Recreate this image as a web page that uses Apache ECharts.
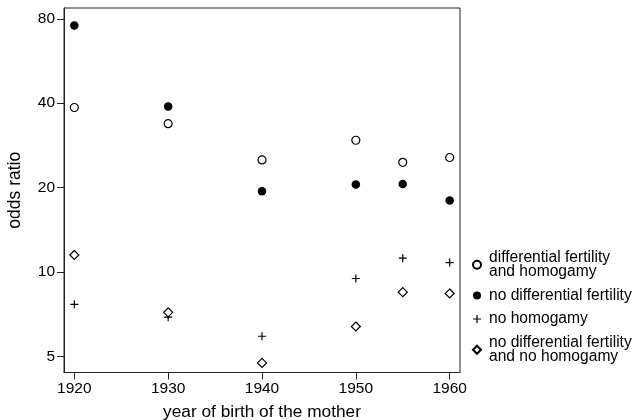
<!DOCTYPE html>
<html><head><meta charset="utf-8">
<script src="https://cdn.jsdelivr.net/npm/echarts@6/dist/echarts.min.js"></script>
<style>html,body{margin:0;padding:0;background:#fff}#c{width:636px;height:420px}</style>
</head><body><div id="c"></div>
<script>
const years = [1920, 1930, 1940, 1950, 1955, 1960];
const diffFertHomogamy = [38.6, 33.8, 25.1, 29.5, 24.6, 25.6];
const noDiffFert = [75.7, 38.9, 19.4, 20.5, 20.6, 18.0];
const noHomogamy = [7.67, 6.9, 5.9, 9.48, 11.2, 10.8];
const noDiffNoHomogamy = [11.5, 7.18, 4.74, 6.39, 8.47, 8.38];
const xTicks = [1920, 1930, 1940, 1950, 1960];
const yTicks = [5, 10, 20, 40, 80];
const seriesNames = ['differential fertility\nand homogamy', 'no differential fertility', 'no homogamy', 'no differential fertility\nand no homogamy'];

const L = v => Math.log2(v);
const pts = arr => years.map((y, i) => [y, L(arr[i])]);
const plusPath = 'path://M3.4,0H4.6V3.4H8V4.6H4.6V8H3.4V4.6H0V3.4H3.4Z';
const font = 'Liberation Sans, Arial, sans-serif';

const chart = echarts.init(document.getElementById('c'), null, {renderer: 'canvas'});
chart.setOption({
  animation: false,
  grid: {left: 64, right: 176, top: 8, bottom: 47.5, show: true, borderColor: '#222', borderWidth: 1,
         containLabel: false, outerBoundsMode: 'none'},
  xAxis: {
    type: 'value', min: 1918.9, max: 1961.1,
    name: 'year of birth of the mother', nameLocation: 'middle', nameGap: 31,
    nameTextStyle: {fontFamily: font, fontSize: 17.3, color: '#000'},
    axisLine: {show: true, lineStyle: {color: '#222'}},
    axisTick: {show: true, inside: false, length: 7, customValues: xTicks, lineStyle: {color: '#222'}},
    axisLabel: {customValues: xTicks, formatter: v => String(v), fontFamily: font, fontSize: 15.5, color: '#000', margin: 8},
    splitLine: {show: false}
  },
  yAxis: {
    type: 'value', min: L(4.38), max: L(87.4),
    name: 'odds ratio', nameLocation: 'middle', nameGap: 40, nameRotate: 90,
    nameTextStyle: {fontFamily: font, fontSize: 17.5, color: '#000'},
    axisLine: {show: true, lineStyle: {color: '#222'}},
    axisTick: {show: true, inside: false, length: 7, customValues: yTicks.map(L), lineStyle: {color: '#222'}},
    axisLabel: {customValues: yTicks.map(L), formatter: v => String(Math.round(Math.pow(2, v))),
      fontFamily: font, fontSize: 15.5, color: '#000', margin: 9},
    splitLine: {show: false}
  },
  legend: {
    orient: 'vertical', left: 472, top: 249.5, itemGap: 7.5, itemWidth: 8, itemHeight: 8, padding: 0,
    textStyle: {fontFamily: font, fontSize: 15.6, color: '#000', lineHeight: 14.5, padding: [0,0,0,3]},
    data: seriesNames
  },
  series: [
    {name: seriesNames[0], type: 'scatter', data: pts(diffFertHomogamy), symbol: 'circle', symbolSize: 8,
     itemStyle: {color: '#fff', borderColor: '#000', borderWidth: 1.2, opacity: 1}},
    {name: seriesNames[1], type: 'scatter', data: pts(noDiffFert), symbol: 'circle', symbolSize: 8.5,
     itemStyle: {color: '#000', borderColor: '#000', borderWidth: 0, opacity: 1}},
    {name: seriesNames[2], type: 'scatter', data: pts(noHomogamy), symbol: plusPath, symbolSize: 8,
     itemStyle: {color: '#000', borderWidth: 0, opacity: 1}},
    {name: seriesNames[3], type: 'scatter', data: pts(noDiffNoHomogamy), symbol: 'diamond', symbolSize: 9,
     itemStyle: {color: '#fff', borderColor: '#000', borderWidth: 1.2, opacity: 1}}
  ]
});
</script></body></html>
